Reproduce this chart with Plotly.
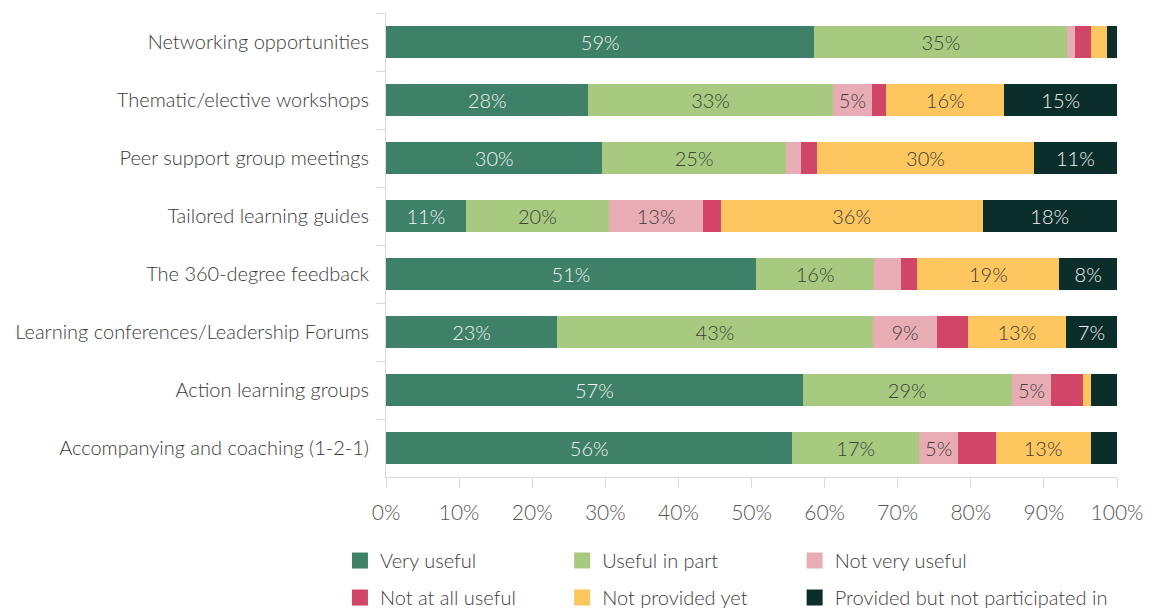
import plotly.graph_objects as go

categories = [
    "Networking opportunities",
    "Thematic/elective workshops",
    "Peer support group meetings",
    "Tailored learning guides",
    "The 360-degree feedback",
    "Learning conferences/Leadership Forums",
    "Action learning groups",
    "Accompanying and coaching (1-2-1)",
]

very_useful = [58.6, 27.7, 29.6, 10.9, 50.6, 23.4, 57.0, 55.6]
useful_in_part = [34.6, 33.4, 25.1, 19.6, 16.2, 43.2, 28.6, 17.3]
not_very_useful = [1.0, 5.4, 2.1, 12.9, 3.7, 8.8, 5.4, 5.4]
not_at_all_useful = [2.2, 1.9, 2.2, 2.4, 2.2, 4.2, 4.3, 5.1]
not_provided_yet = [2.2, 16.2, 29.6, 35.8, 19.4, 13.4, 1.1, 13.0]
provided_not_participated = [1.5, 15.4, 11.4, 18.4, 7.9, 7.0, 3.7, 3.6]

x_tick_values = [0, 10, 20, 30, 40, 50, 60, 70, 80, 90, 100]
x_tick_labels = ["0%", "10%", "20%", "30%", "40%", "50%", "60%", "70%", "80%", "90%", "100%"]

FONT = "Lato"

series = [
    ("Very useful", very_useful, "#3f8068", "#eef4f0", True, "legend"),
    ("Useful in part", useful_in_part, "#a7c980", "#3d4437", True, "legend2"),
    ("Not very useful", not_very_useful, "#e8adb4", "#3d3d3d", True, "legend3"),
    ("Not at all useful", not_at_all_useful, "#d04568", "#3d3d3d", False, "legend"),
    ("Not provided yet", not_provided_yet, "#fec65e", "#3d3d3d", True, "legend2"),
    ("Provided but not participated in", provided_not_participated, "#0c2e2b", "#f2f2f2", True, "legend3"),
]

fig = go.Figure()
for name, vals, color, tcolor, show_lbl, leg in series:
    texts = [f"{v:.0f}%" if (show_lbl and v >= 5) else "" for v in vals]
    fig.add_trace(go.Bar(
        y=categories, x=vals, orientation="h", name=name,
        marker=dict(color=color, line=dict(width=0)),
        text=texts, textposition="inside", insidetextanchor="middle",
        textangle=0, constraintext="none",
        textfont=dict(family=FONT, size=20, color=tcolor, weight=300),
        showlegend=False, hoverinfo="x+y+name",
    ))

for i, (name, vals, color, tcolor, show_lbl, leg) in enumerate(series):
    fig.add_trace(go.Scatter(
        x=[None], y=[None], mode="markers", name=name,
        marker=dict(symbol="square", size=17, color=color),
        legend=leg, legendgroup=f"g{i}", showlegend=True,
    ))

legend_common = dict(
    orientation="v", yanchor="top", y=-0.138, xanchor="left",
    font=dict(family=FONT, size=20, color="#404040", weight=300),
    bgcolor="rgba(0,0,0,0)", borderwidth=0, traceorder="grouped",
    tracegroupgap=8,
)

fig.update_layout(
    barmode="stack",
    bargap=0.45,
    width=1157, height=610,
    margin=dict(l=378, r=48, t=5, b=141, autoexpand=False),
    plot_bgcolor="white", paper_bgcolor="white",
    font=dict(family=FONT, size=20, color="#404040"),
    legend=dict(x=-0.063, **legend_common),
    legend2=dict(x=0.241, **legend_common),
    legend3=dict(x=0.559, **legend_common),
    xaxis=dict(
        range=[0, 100], tickvals=x_tick_values, ticktext=x_tick_labels,
        showgrid=False, zeroline=False, showline=True, linecolor="#d9d9d9", linewidth=1,
        ticks="outside", ticklen=10, tickcolor="#d9d9d9",
        tickfont=dict(family=FONT, size=21, color="#555555", weight=300),
        ticklabelstandoff=7,
        fixedrange=True,
    ),
    yaxis=dict(
        type="category", autorange="reversed",
        showgrid=False, zeroline=False, showline=True, linecolor="#d9d9d9", linewidth=1,
        ticks="outside", ticklen=9, tickcolor="#d9d9d9", tickson="boundaries",
        tickfont=dict(family=FONT, size=20, color="#3a3a3a", weight=300),
        ticklabelstandoff=12,
        fixedrange=True,
    ),
)

fig.write_html("out.html")
